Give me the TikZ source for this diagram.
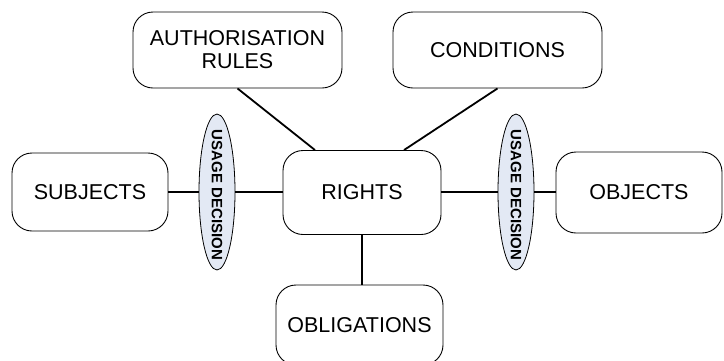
\documentclass[tikz,border=0pt]{standalone}
\usepackage{fontspec}
\setmainfont{Liberation Sans}
\usetikzlibrary{shapes.geometric,calc}
\definecolor{decisionfill}{HTML}{E3E9F4}
\begin{document}
\begin{tikzpicture}[x=1pt,y=-1pt,
  entity/.style={draw=black, line width=0.9pt, rounded corners=20pt,
    align=center, inner sep=0pt, font=\fontsize{21.5}{23}\selectfont},
  decision/.style={draw=black, line width=0.8pt, ellipse, fill=decisionfill,
    minimum width=36pt, minimum height=156pt, inner sep=0pt},
  decisiontext/.style={rotate=-90, font=\fontsize{15}{16}\selectfont\bfseries, inner sep=0pt},
  link/.style={draw=black, line width=1.8pt}]
  \useasboundingbox (0,0) rectangle (724,360);

  % policy elements
  \node[entity, minimum width=209pt, minimum height=76pt] (auth) at (237.5,50) {AUTHORISATION\\RULES};
  \node[entity, minimum width=209pt, minimum height=76pt] (cond) at (497.5,50) {CONDITIONS};
  \node[entity, minimum width=156pt, minimum height=78pt] (subj) at (90,192) {SUBJECTS};
  \node[entity, minimum width=158pt, minimum height=84pt] (rights) at (362,192.5) {RIGHTS};
  \node[entity, minimum width=166pt, minimum height=81pt] (objs) at (639,192.5) {OBJECTS};
  \node[entity, minimum width=167pt, minimum height=80pt] (oblig) at (359.5,325) {OBLIGATIONS};

  % usage decision points
  \node[decision] (ud1) at (217,192) {};
  \node[decisiontext] (ud1t) at (217,195) {USAGE DECISION};
  \node[decision] (ud2) at (516,192) {};
  \node[decisiontext] (ud2t) at (516,195) {USAGE DECISION};

  % connectors
  \draw[link] (subj.east) -- (ud1.west);
  \draw[link] (ud1.east) -- (ud1.east -| rights.west);
  \draw[link] (rights.east |- ud2.west) -- (ud2.west);
  \draw[link] (ud2.east) -- (ud2.east -| objs.west);
  \draw[link] (auth.south) -- ([xshift=-47pt]rights.north);
  \draw[link] (cond.south) -- ([xshift=42pt]rights.north);
  \draw[link] (rights.south) -- (rights.south |- oblig.north);
\end{tikzpicture}
\end{document}
